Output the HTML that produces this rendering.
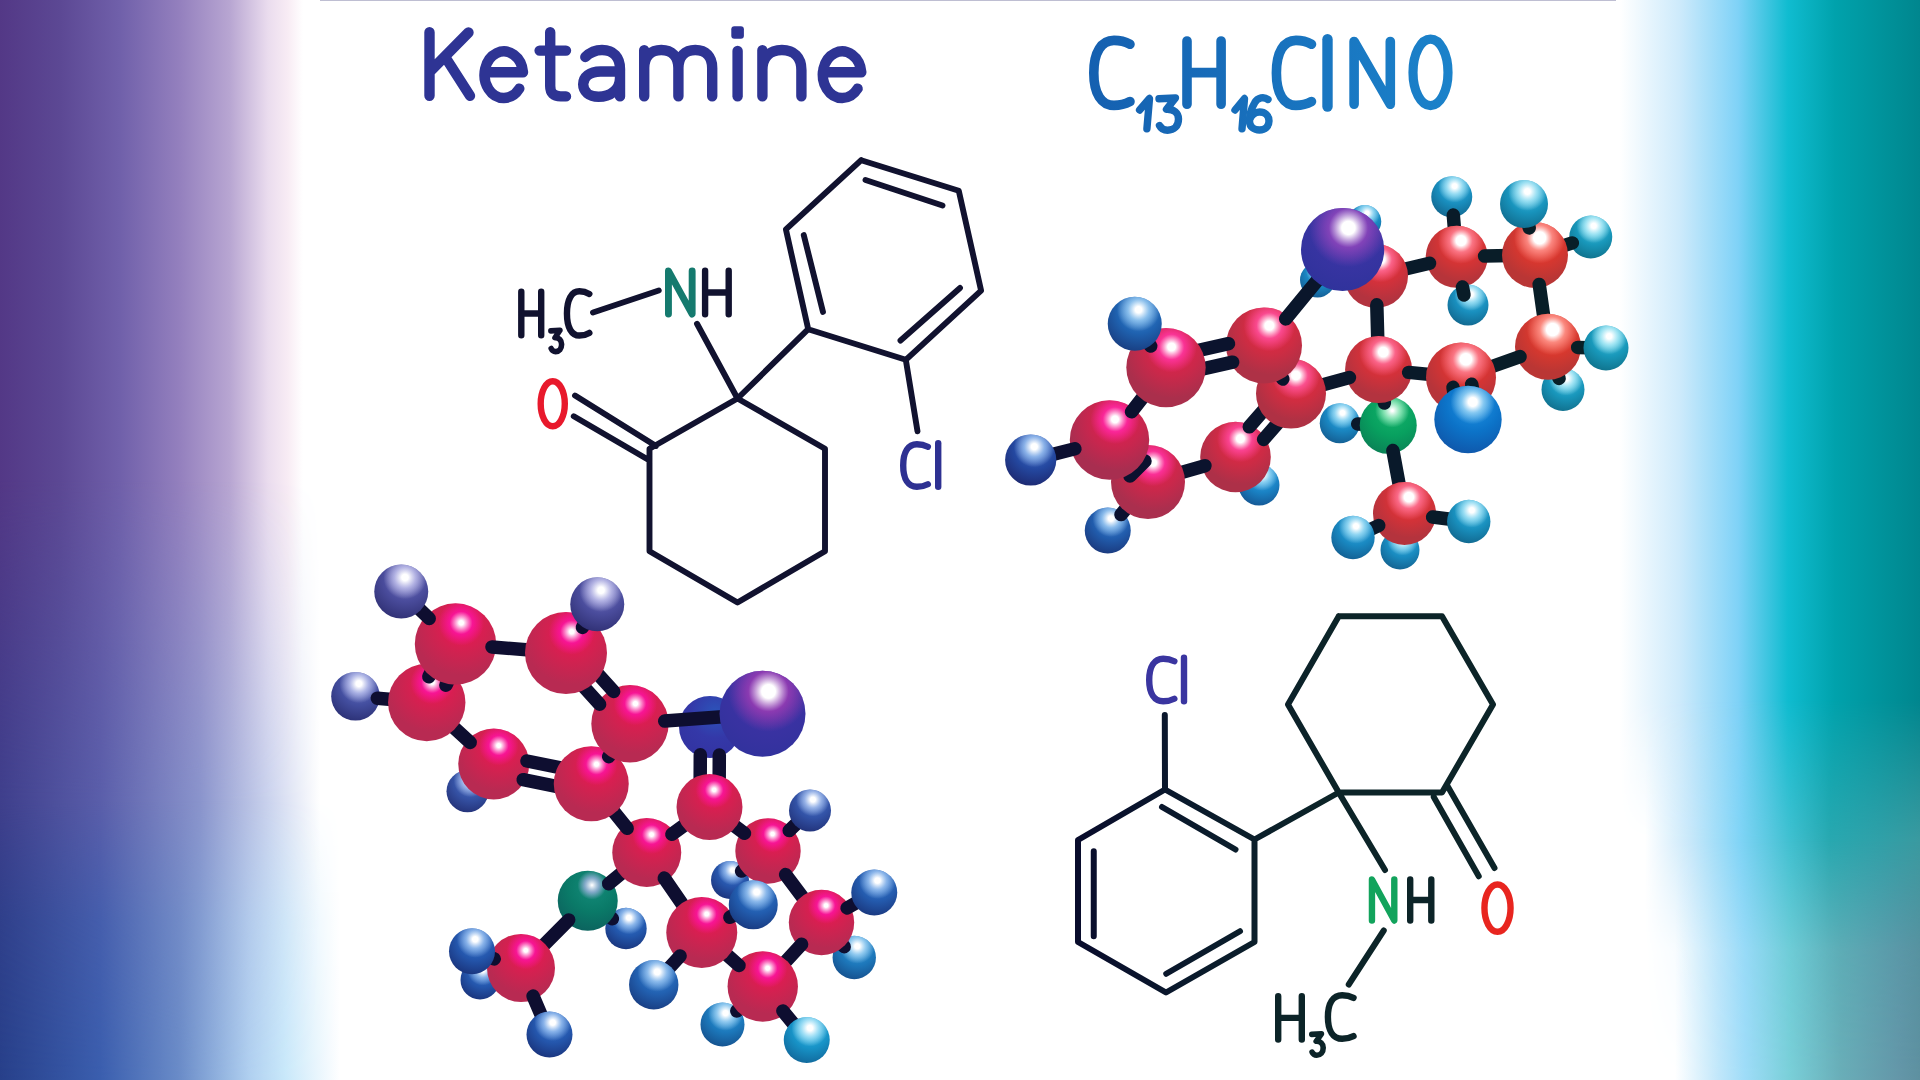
<!DOCTYPE html>
<html><head><meta charset="utf-8"><title>Ketamine</title>
<style>html,body{margin:0;padding:0;background:#fff;font-family:"Liberation Sans",sans-serif}svg{display:block}</style></head>
<body>
<svg width="1920" height="1080" viewBox="0 0 1920 1080">
<defs>
<linearGradient id="lt" gradientUnits="userSpaceOnUse" x1="0" y1="0" x2="360" y2="0"><stop offset="0.0000" stop-color="#533886"/><stop offset="0.1667" stop-color="#5c4894"/><stop offset="0.3333" stop-color="#7060aa"/><stop offset="0.5000" stop-color="#9480be"/><stop offset="0.6389" stop-color="#b8a6d2"/><stop offset="0.7444" stop-color="#eadcee"/><stop offset="0.8000" stop-color="#f8ecf4"/><stop offset="0.8417" stop-color="#ffffff"/><stop offset="1.0000" stop-color="#ffffff"/></linearGradient>
<linearGradient id="lm" gradientUnits="userSpaceOnUse" x1="0" y1="0" x2="360" y2="0"><stop offset="0.0000" stop-color="#3f3f8c"/><stop offset="0.2778" stop-color="#5a5eaa"/><stop offset="0.5556" stop-color="#8a94cc"/><stop offset="0.7500" stop-color="#ccd4ee"/><stop offset="0.8889" stop-color="#ffffff"/><stop offset="1.0000" stop-color="#ffffff"/></linearGradient>
<linearGradient id="lb" gradientUnits="userSpaceOnUse" x1="0" y1="0" x2="360" y2="0"><stop offset="0.0000" stop-color="#27408a"/><stop offset="0.2778" stop-color="#3a5eae"/><stop offset="0.5000" stop-color="#6a8cc8"/><stop offset="0.6944" stop-color="#b0d0f0"/><stop offset="0.7917" stop-color="#c8e8fa"/><stop offset="0.9444" stop-color="#ffffff"/><stop offset="1.0000" stop-color="#ffffff"/></linearGradient>
<linearGradient id="lmmg" gradientUnits="userSpaceOnUse" x1="0" y1="0" x2="0" y2="1080"><stop offset="0.0000" stop-color="#000000"/><stop offset="0.4444" stop-color="#000000"/><stop offset="0.7407" stop-color="#ffffff"/><stop offset="1.0000" stop-color="#ffffff"/></linearGradient><mask id="lmm" maskUnits="userSpaceOnUse" x="0" y="0" width="360" height="1080"><rect x="0" y="0" width="360" height="1080" fill="url(#lmmg)"/></mask>
<linearGradient id="lbmg" gradientUnits="userSpaceOnUse" x1="0" y1="0" x2="0" y2="1080"><stop offset="0.0000" stop-color="#000000"/><stop offset="0.7407" stop-color="#000000"/><stop offset="0.8519" stop-color="#a6a6a6"/><stop offset="1.0000" stop-color="#ffffff"/></linearGradient><mask id="lbm" maskUnits="userSpaceOnUse" x="0" y="0" width="360" height="1080"><rect x="0" y="0" width="360" height="1080" fill="url(#lbmg)"/></mask>
<linearGradient id="rt" gradientUnits="userSpaceOnUse" x1="1600" y1="0" x2="1920" y2="0"><stop offset="0.0000" stop-color="#ffffff"/><stop offset="0.0625" stop-color="#ffffff"/><stop offset="0.2500" stop-color="#cdeafb"/><stop offset="0.4313" stop-color="#7fd2f7"/><stop offset="0.5875" stop-color="#10bcd0"/><stop offset="0.7344" stop-color="#00a2ac"/><stop offset="0.9062" stop-color="#009098"/><stop offset="1.0000" stop-color="#00868e"/></linearGradient>
<linearGradient id="rm" gradientUnits="userSpaceOnUse" x1="1600" y1="0" x2="1920" y2="0"><stop offset="0.0000" stop-color="#ffffff"/><stop offset="0.1406" stop-color="#ffffff"/><stop offset="0.2812" stop-color="#c8e8fa"/><stop offset="0.4375" stop-color="#80d4f6"/><stop offset="0.5938" stop-color="#40c0d0"/><stop offset="0.7188" stop-color="#28a8b0"/><stop offset="0.8750" stop-color="#30a0a8"/><stop offset="1.0000" stop-color="#3a9aa0"/></linearGradient>
<linearGradient id="rb" gradientUnits="userSpaceOnUse" x1="1600" y1="0" x2="1920" y2="0"><stop offset="0.0000" stop-color="#ffffff"/><stop offset="0.2344" stop-color="#ffffff"/><stop offset="0.3750" stop-color="#bfe6fa"/><stop offset="0.4531" stop-color="#9fdcf8"/><stop offset="0.5938" stop-color="#7acfd8"/><stop offset="0.7500" stop-color="#6aaeb8"/><stop offset="0.9375" stop-color="#6496a8"/><stop offset="1.0000" stop-color="#5e90a0"/></linearGradient>
<linearGradient id="rmmg" gradientUnits="userSpaceOnUse" x1="0" y1="0" x2="0" y2="1080"><stop offset="0.0000" stop-color="#000000"/><stop offset="0.6481" stop-color="#000000"/><stop offset="0.7778" stop-color="#ffffff"/><stop offset="1.0000" stop-color="#ffffff"/></linearGradient><mask id="rmm" maskUnits="userSpaceOnUse" x="1600" y="0" width="320" height="1080"><rect x="1600" y="0" width="320" height="1080" fill="url(#rmmg)"/></mask>
<linearGradient id="rbmg" gradientUnits="userSpaceOnUse" x1="0" y1="0" x2="0" y2="1080"><stop offset="0.0000" stop-color="#000000"/><stop offset="0.7778" stop-color="#000000"/><stop offset="0.8796" stop-color="#cccccc"/><stop offset="1.0000" stop-color="#ffffff"/></linearGradient><mask id="rbm" maskUnits="userSpaceOnUse" x="1600" y="0" width="320" height="1080"><rect x="1600" y="0" width="320" height="1080" fill="url(#rbmg)"/></mask>
<linearGradient id="fg" gradientUnits="userSpaceOnUse" x1="1090" y1="0" x2="1452" y2="0"><stop offset="0" stop-color="#1560b0"/><stop offset="1" stop-color="#1b82ca"/></linearGradient>
<linearGradient id="s2g" gradientUnits="userSpaceOnUse" x1="1076" y1="0" x2="1330" y2="0"><stop offset="0" stop-color="#090c2c"/><stop offset=".45" stop-color="#0a1a2c"/><stop offset="1" stop-color="#0c2428"/></linearGradient>
<radialGradient id="b1" cx=".58" cy=".27" r=".82"><stop offset="0" stop-color="#3caae6"/><stop offset="0.5" stop-color="#1a82c4"/><stop offset="1" stop-color="#14508c"/></radialGradient><radialGradient id="h1" cx=".57" cy=".24" r="0.4"><stop offset="0" stop-color="#fff"/><stop offset="0.15" stop-color="#fff"/><stop offset=".5" stop-color="#96d7f5" stop-opacity=".85"/><stop offset="1" stop-color="#96d7f5" stop-opacity="0"/></radialGradient>
<radialGradient id="b2" cx=".58" cy=".27" r=".82"><stop offset="0" stop-color="#4989d5"/><stop offset="0.5" stop-color="#215cac"/><stop offset="1" stop-color="#193375"/></radialGradient><radialGradient id="h2" cx=".57" cy=".24" r="0.4"><stop offset="0" stop-color="#fff"/><stop offset="0.15" stop-color="#fff"/><stop offset=".5" stop-color="#96c6f2" stop-opacity=".85"/><stop offset="1" stop-color="#96c6f2" stop-opacity="0"/></radialGradient>
<radialGradient id="b3" cx=".58" cy=".27" r=".82"><stop offset="0" stop-color="#42b2e6"/><stop offset="0.5" stop-color="#1a87c2"/><stop offset="1" stop-color="#13578a"/></radialGradient><radialGradient id="h3" cx=".57" cy=".24" r="0.4"><stop offset="0" stop-color="#fff"/><stop offset="0.15" stop-color="#fff"/><stop offset=".5" stop-color="#9cdcf6" stop-opacity=".85"/><stop offset="1" stop-color="#9cdcf6" stop-opacity="0"/></radialGradient>
<radialGradient id="b4" cx=".58" cy=".27" r=".82"><stop offset="0" stop-color="#43b4e6"/><stop offset="0.5" stop-color="#1989c1"/><stop offset="1" stop-color="#12598a"/></radialGradient><radialGradient id="h4" cx=".57" cy=".24" r="0.4"><stop offset="0" stop-color="#fff"/><stop offset="0.15" stop-color="#fff"/><stop offset=".5" stop-color="#9eddf6" stop-opacity=".85"/><stop offset="1" stop-color="#9eddf6" stop-opacity="0"/></radialGradient>
<radialGradient id="b5" cx=".58" cy=".27" r=".82"><stop offset="0" stop-color="#40b0e6"/><stop offset="0.5" stop-color="#1a86c2"/><stop offset="1" stop-color="#13558b"/></radialGradient><radialGradient id="h5" cx=".57" cy=".24" r="0.4"><stop offset="0" stop-color="#fff"/><stop offset="0.15" stop-color="#fff"/><stop offset=".5" stop-color="#9adbf6" stop-opacity=".85"/><stop offset="1" stop-color="#9adbf6" stop-opacity="0"/></radialGradient>
<radialGradient id="b6" cx=".58" cy=".27" r=".82"><stop offset="0" stop-color="#46b8e6"/><stop offset="0.5" stop-color="#198bc0"/><stop offset="1" stop-color="#125c89"/></radialGradient><radialGradient id="h6" cx=".57" cy=".24" r="0.4"><stop offset="0" stop-color="#fff"/><stop offset="0.15" stop-color="#fff"/><stop offset=".5" stop-color="#a0e0f6" stop-opacity=".85"/><stop offset="1" stop-color="#a0e0f6" stop-opacity="0"/></radialGradient>
<radialGradient id="b7" cx=".58" cy=".27" r=".82"><stop offset="0" stop-color="#4abde6"/><stop offset="0.5" stop-color="#198ebe"/><stop offset="1" stop-color="#116087"/></radialGradient><radialGradient id="h7" cx=".57" cy=".24" r="0.4"><stop offset="0" stop-color="#fff"/><stop offset="0.15" stop-color="#fff"/><stop offset=".5" stop-color="#a4e3f7" stop-opacity=".85"/><stop offset="1" stop-color="#a4e3f7" stop-opacity="0"/></radialGradient>
<radialGradient id="b8" cx=".58" cy=".27" r=".82"><stop offset="0" stop-color="#51c8e6"/><stop offset="0.5" stop-color="#1896bb"/><stop offset="1" stop-color="#0f6985"/></radialGradient><radialGradient id="h8" cx=".57" cy=".24" r="0.4"><stop offset="0" stop-color="#fff"/><stop offset="0.15" stop-color="#fff"/><stop offset=".5" stop-color="#aceaf8" stop-opacity=".85"/><stop offset="1" stop-color="#aceaf8" stop-opacity="0"/></radialGradient>
<radialGradient id="b9" cx=".58" cy=".27" r=".82"><stop offset="0.1" stop-color="#e42548"/><stop offset="0.42" stop-color="#cd2b45"/><stop offset="0.75" stop-color="#ad3048"/></radialGradient><radialGradient id="h9" cx=".57" cy=".24" r="0.333"><stop offset="0" stop-color="#fff"/><stop offset="0.169" stop-color="#fff"/><stop offset=".5" stop-color="#ff489e" stop-opacity=".85"/><stop offset="1" stop-color="#ff489e" stop-opacity="0"/></radialGradient>
<radialGradient id="b10" cx=".58" cy=".27" r=".82"><stop offset="0" stop-color="#14b46c"/><stop offset="0.5" stop-color="#08a05f"/><stop offset="1" stop-color="#0a7c54"/></radialGradient><radialGradient id="h10" cx=".57" cy=".24" r="0.3"><stop offset="0" stop-color="#fff"/><stop offset="0.06" stop-color="#fff"/><stop offset=".5" stop-color="#96ebbe" stop-opacity=".85"/><stop offset="1" stop-color="#96ebbe" stop-opacity="0"/></radialGradient>
<radialGradient id="b11" cx=".58" cy=".27" r=".82"><stop offset="0.1" stop-color="#e83535"/><stop offset="0.42" stop-color="#d53435"/><stop offset="0.75" stop-color="#b6343a"/></radialGradient><radialGradient id="h11" cx=".57" cy=".24" r="0.373"><stop offset="0" stop-color="#fff"/><stop offset="0.219" stop-color="#fff"/><stop offset=".5" stop-color="#ff7f91" stop-opacity=".85"/><stop offset="1" stop-color="#ff7f91" stop-opacity="0"/></radialGradient>
<radialGradient id="b12" cx=".58" cy=".27" r=".82"><stop offset="0" stop-color="#53cbe6"/><stop offset="0.5" stop-color="#1897ba"/><stop offset="1" stop-color="#0e6b84"/></radialGradient><radialGradient id="h12" cx=".57" cy=".24" r="0.4"><stop offset="0" stop-color="#fff"/><stop offset="0.15" stop-color="#fff"/><stop offset=".5" stop-color="#aeebf8" stop-opacity=".85"/><stop offset="1" stop-color="#aeebf8" stop-opacity="0"/></radialGradient>
<radialGradient id="b13" cx=".58" cy=".27" r=".82"><stop offset="0.1" stop-color="#e31f4f"/><stop offset="0.42" stop-color="#c9284b"/><stop offset="0.75" stop-color="#aa2f4e"/></radialGradient><radialGradient id="h13" cx=".57" cy=".24" r="0.317"><stop offset="0" stop-color="#fff"/><stop offset="0.149" stop-color="#fff"/><stop offset=".5" stop-color="#ff32a3" stop-opacity=".85"/><stop offset="1" stop-color="#ff32a3" stop-opacity="0"/></radialGradient>
<radialGradient id="b14" cx=".58" cy=".27" r=".82"><stop offset="0.1" stop-color="#e72f3c"/><stop offset="0.42" stop-color="#d2313b"/><stop offset="0.75" stop-color="#b3333f"/></radialGradient><radialGradient id="h14" cx=".57" cy=".24" r="0.359"><stop offset="0" stop-color="#fff"/><stop offset="0.201" stop-color="#fff"/><stop offset=".5" stop-color="#ff6b96" stop-opacity=".85"/><stop offset="1" stop-color="#ff6b96" stop-opacity="0"/></radialGradient>
<radialGradient id="b15" cx=".58" cy=".27" r=".82"><stop offset="0.1" stop-color="#ea3b2f"/><stop offset="0.42" stop-color="#d8372f"/><stop offset="0.75" stop-color="#b93635"/></radialGradient><radialGradient id="h15" cx=".57" cy=".24" r="0.388"><stop offset="0" stop-color="#fff"/><stop offset="0.237" stop-color="#fff"/><stop offset=".5" stop-color="#ff938d" stop-opacity=".85"/><stop offset="1" stop-color="#ff938d" stop-opacity="0"/></radialGradient>
<radialGradient id="b16" cx=".58" cy=".27" r=".82"><stop offset="0.1" stop-color="#e7323a"/><stop offset="0.42" stop-color="#d33238"/><stop offset="0.75" stop-color="#b4333d"/></radialGradient><radialGradient id="h16" cx=".57" cy=".24" r="0.364"><stop offset="0" stop-color="#fff"/><stop offset="0.207" stop-color="#fff"/><stop offset=".5" stop-color="#ff7294" stop-opacity=".85"/><stop offset="1" stop-color="#ff7294" stop-opacity="0"/></radialGradient>
<radialGradient id="b17" cx=".58" cy=".27" r=".82"><stop offset="0" stop-color="#4bbfe6"/><stop offset="0.5" stop-color="#198fbe"/><stop offset="1" stop-color="#106187"/></radialGradient><radialGradient id="h17" cx=".57" cy=".24" r="0.4"><stop offset="0" stop-color="#fff"/><stop offset="0.15" stop-color="#fff"/><stop offset=".5" stop-color="#a5e4f7" stop-opacity=".85"/><stop offset="1" stop-color="#a5e4f7" stop-opacity="0"/></radialGradient>
<radialGradient id="b18" cx=".58" cy=".27" r=".82"><stop offset="0.1" stop-color="#e21c52"/><stop offset="0.42" stop-color="#c8264e"/><stop offset="0.75" stop-color="#a82e50"/></radialGradient><radialGradient id="h18" cx=".57" cy=".24" r="0.31"><stop offset="0" stop-color="#fff"/><stop offset="0.14" stop-color="#fff"/><stop offset=".5" stop-color="#ff28a5" stop-opacity=".85"/><stop offset="1" stop-color="#ff28a5" stop-opacity="0"/></radialGradient>
<radialGradient id="b19" cx=".58" cy=".27" r=".82"><stop offset="0.1" stop-color="#ea3c2e"/><stop offset="0.42" stop-color="#d8382e"/><stop offset="0.75" stop-color="#ba3634"/></radialGradient><radialGradient id="h19" cx=".57" cy=".24" r="0.39"><stop offset="0" stop-color="#fff"/><stop offset="0.24" stop-color="#fff"/><stop offset=".5" stop-color="#ff968c" stop-opacity=".85"/><stop offset="1" stop-color="#ff968c" stop-opacity="0"/></radialGradient>
<radialGradient id="b20" cx=".58" cy=".27" r=".82"><stop offset="0.1" stop-color="#e7303c"/><stop offset="0.42" stop-color="#d2313a"/><stop offset="0.75" stop-color="#b3333f"/></radialGradient><radialGradient id="h20" cx=".57" cy=".24" r="0.359"><stop offset="0" stop-color="#fff"/><stop offset="0.201" stop-color="#fff"/><stop offset=".5" stop-color="#ff6c96" stop-opacity=".85"/><stop offset="1" stop-color="#ff6c96" stop-opacity="0"/></radialGradient>
<radialGradient id="b21" cx=".58" cy=".27" r=".82"><stop offset="0" stop-color="#43b3e6"/><stop offset="0.5" stop-color="#1988c1"/><stop offset="1" stop-color="#12588a"/></radialGradient><radialGradient id="h21" cx=".57" cy=".24" r="0.4"><stop offset="0" stop-color="#fff"/><stop offset="0.15" stop-color="#fff"/><stop offset=".5" stop-color="#9dddf6" stop-opacity=".85"/><stop offset="1" stop-color="#9dddf6" stop-opacity="0"/></radialGradient>
<radialGradient id="b22" cx=".58" cy=".27" r=".82"><stop offset="0" stop-color="#4bbfe6"/><stop offset="0.5" stop-color="#1990be"/><stop offset="1" stop-color="#106187"/></radialGradient><radialGradient id="h22" cx=".57" cy=".24" r="0.4"><stop offset="0" stop-color="#fff"/><stop offset="0.15" stop-color="#fff"/><stop offset=".5" stop-color="#a5e4f7" stop-opacity=".85"/><stop offset="1" stop-color="#a5e4f7" stop-opacity="0"/></radialGradient>
<radialGradient id="b23" cx=".58" cy=".27" r=".82"><stop offset="0" stop-color="#4fc4e6"/><stop offset="0.5" stop-color="#1893bc"/><stop offset="1" stop-color="#0f6686"/></radialGradient><radialGradient id="h23" cx=".57" cy=".24" r="0.4"><stop offset="0" stop-color="#fff"/><stop offset="0.15" stop-color="#fff"/><stop offset=".5" stop-color="#a9e7f7" stop-opacity=".85"/><stop offset="1" stop-color="#a9e7f7" stop-opacity="0"/></radialGradient>
<radialGradient id="b24" cx=".58" cy=".27" r=".82"><stop offset="0" stop-color="#5078cd"/><stop offset="0.5" stop-color="#2448a0"/><stop offset="1" stop-color="#1c2469"/></radialGradient><radialGradient id="h24" cx=".57" cy=".24" r="0.4"><stop offset="0" stop-color="#fff"/><stop offset="0.15" stop-color="#fff"/><stop offset=".5" stop-color="#96bef0" stop-opacity=".85"/><stop offset="1" stop-color="#96bef0" stop-opacity="0"/></radialGradient>
<radialGradient id="b25" cx=".58" cy=".27" r=".82"><stop offset="0.1" stop-color="#e83635"/><stop offset="0.42" stop-color="#d53434"/><stop offset="0.75" stop-color="#b6343a"/></radialGradient><radialGradient id="h25" cx=".57" cy=".24" r="0.374"><stop offset="0" stop-color="#fff"/><stop offset="0.22" stop-color="#fff"/><stop offset=".5" stop-color="#ff8091" stop-opacity=".85"/><stop offset="1" stop-color="#ff8091" stop-opacity="0"/></radialGradient>
<radialGradient id="b26" cx=".58" cy=".27" r=".82"><stop offset="0.1" stop-color="#e52943"/><stop offset="0.42" stop-color="#cf2d41"/><stop offset="0.75" stop-color="#af3144"/></radialGradient><radialGradient id="h26" cx=".57" cy=".24" r="0.343"><stop offset="0" stop-color="#fff"/><stop offset="0.181" stop-color="#fff"/><stop offset=".5" stop-color="#ff569b" stop-opacity=".85"/><stop offset="1" stop-color="#ff569b" stop-opacity="0"/></radialGradient>
<radialGradient id="b27" cx=".58" cy=".27" r=".82"><stop offset="0" stop-color="#54cce6"/><stop offset="0.5" stop-color="#1898ba"/><stop offset="1" stop-color="#0e6c84"/></radialGradient><radialGradient id="h27" cx=".57" cy=".24" r="0.4"><stop offset="0" stop-color="#fff"/><stop offset="0.15" stop-color="#fff"/><stop offset=".5" stop-color="#afecf8" stop-opacity=".85"/><stop offset="1" stop-color="#afecf8" stop-opacity="0"/></radialGradient>
<radialGradient id="b28" cx=".58" cy=".27" r=".82"><stop offset="0" stop-color="#2096e6"/><stop offset="0.5" stop-color="#0c73c8"/><stop offset="1" stop-color="#1052a5"/></radialGradient><radialGradient id="h28" cx=".57" cy=".24" r="0.33"><stop offset="0" stop-color="#fff"/><stop offset="0.2" stop-color="#fff"/><stop offset=".5" stop-color="#96d2f5" stop-opacity=".85"/><stop offset="1" stop-color="#96d2f5" stop-opacity="0"/></radialGradient>
<radialGradient id="b29" cx=".58" cy=".27" r=".82"><stop offset="0.1" stop-color="#e52745"/><stop offset="0.42" stop-color="#ce2c43"/><stop offset="0.75" stop-color="#ae3146"/></radialGradient><radialGradient id="h29" cx=".57" cy=".24" r="0.338"><stop offset="0" stop-color="#fff"/><stop offset="0.175" stop-color="#fff"/><stop offset=".5" stop-color="#ff4f9c" stop-opacity=".85"/><stop offset="1" stop-color="#ff4f9c" stop-opacity="0"/></radialGradient>
<radialGradient id="b30" cx=".58" cy=".27" r=".82"><stop offset="0.1" stop-color="#e3204d"/><stop offset="0.42" stop-color="#ca284a"/><stop offset="0.75" stop-color="#aa2f4c"/></radialGradient><radialGradient id="h30" cx=".57" cy=".24" r="0.32"><stop offset="0" stop-color="#fff"/><stop offset="0.153" stop-color="#fff"/><stop offset=".5" stop-color="#ff36a2" stop-opacity=".85"/><stop offset="1" stop-color="#ff36a2" stop-opacity="0"/></radialGradient>
<radialGradient id="b31" cx=".58" cy=".27" r=".82"><stop offset="0" stop-color="#5430a6"/><stop offset="0.5" stop-color="#3834a2"/><stop offset="1" stop-color="#2e329a"/></radialGradient><radialGradient id="h31" cx=".57" cy=".24" r="0.47"><stop offset="0" stop-color="#fff"/><stop offset="0.17" stop-color="#fff"/><stop offset=".5" stop-color="#8c46bc" stop-opacity=".85"/><stop offset="1" stop-color="#8c46bc" stop-opacity="0"/></radialGradient>
<radialGradient id="b32" cx=".58" cy=".27" r=".82"><stop offset="0" stop-color="#478fd8"/><stop offset="0.5" stop-color="#1f62b0"/><stop offset="1" stop-color="#183879"/></radialGradient><radialGradient id="h32" cx=".57" cy=".24" r="0.4"><stop offset="0" stop-color="#fff"/><stop offset="0.15" stop-color="#fff"/><stop offset=".5" stop-color="#96c9f2" stop-opacity=".85"/><stop offset="1" stop-color="#96c9f2" stop-opacity="0"/></radialGradient>
<radialGradient id="b33" cx=".58" cy=".27" r=".82"><stop offset="0" stop-color="#6b75c3"/><stop offset="0.5" stop-color="#434e9f"/><stop offset="1" stop-color="#282c6f"/></radialGradient><radialGradient id="h33" cx=".57" cy=".24" r="0.4"><stop offset="0" stop-color="#fff"/><stop offset="0.15" stop-color="#fff"/><stop offset=".5" stop-color="#b7beec" stop-opacity=".85"/><stop offset="1" stop-color="#b7beec" stop-opacity="0"/></radialGradient>
<radialGradient id="b34" cx=".58" cy=".27" r=".82"><stop offset="0" stop-color="#5477c9"/><stop offset="0.5" stop-color="#3552a5"/><stop offset="1" stop-color="#212d71"/></radialGradient><radialGradient id="h34" cx=".57" cy=".24" r="0.4"><stop offset="0" stop-color="#fff"/><stop offset="0.15" stop-color="#fff"/><stop offset=".5" stop-color="#a7beee" stop-opacity=".85"/><stop offset="1" stop-color="#a7beee" stop-opacity="0"/></radialGradient>
<radialGradient id="b35" cx=".58" cy=".27" r=".82"><stop offset="0" stop-color="#3a7dd1"/><stop offset="0.5" stop-color="#2358ad"/><stop offset="1" stop-color="#183075"/></radialGradient><radialGradient id="h35" cx=".57" cy=".24" r="0.4"><stop offset="0" stop-color="#fff"/><stop offset="0.15" stop-color="#fff"/><stop offset=".5" stop-color="#97c0f0" stop-opacity=".85"/><stop offset="1" stop-color="#97c0f0" stop-opacity="0"/></radialGradient>
<radialGradient id="b36" cx=".58" cy=".27" r=".82"><stop offset="0" stop-color="#3a7ad0"/><stop offset="0.5" stop-color="#2456ac"/><stop offset="1" stop-color="#182e74"/></radialGradient><radialGradient id="h36" cx=".57" cy=".24" r="0.4"><stop offset="0" stop-color="#fff"/><stop offset="0.15" stop-color="#fff"/><stop offset=".5" stop-color="#96bef0" stop-opacity=".85"/><stop offset="1" stop-color="#96bef0" stop-opacity="0"/></radialGradient>
<radialGradient id="b37" cx=".58" cy=".27" r=".82"><stop offset="0" stop-color="#3f7acf"/><stop offset="0.5" stop-color="#2755ab"/><stop offset="1" stop-color="#1a2e74"/></radialGradient><radialGradient id="h37" cx=".57" cy=".24" r="0.4"><stop offset="0" stop-color="#fff"/><stop offset="0.15" stop-color="#fff"/><stop offset=".5" stop-color="#99bef0" stop-opacity=".85"/><stop offset="1" stop-color="#99bef0" stop-opacity="0"/></radialGradient>
<radialGradient id="b38" cx=".58" cy=".27" r=".82"><stop offset="0" stop-color="#399edc"/><stop offset="0.5" stop-color="#1d77ba"/><stop offset="1" stop-color="#144a86"/></radialGradient><radialGradient id="h38" cx=".57" cy=".24" r="0.4"><stop offset="0" stop-color="#fff"/><stop offset="0.15" stop-color="#fff"/><stop offset=".5" stop-color="#a0d3f5" stop-opacity=".85"/><stop offset="1" stop-color="#a0d3f5" stop-opacity="0"/></radialGradient>
<radialGradient id="b39" cx=".58" cy=".27" r=".82"><stop offset="0" stop-color="#39a0dd"/><stop offset="0.5" stop-color="#1c78bb"/><stop offset="1" stop-color="#144b86"/></radialGradient><radialGradient id="h39" cx=".57" cy=".24" r="0.4"><stop offset="0" stop-color="#fff"/><stop offset="0.15" stop-color="#fff"/><stop offset=".5" stop-color="#a1d3f5" stop-opacity=".85"/><stop offset="1" stop-color="#a1d3f5" stop-opacity="0"/></radialGradient>
<radialGradient id="b40" cx=".58" cy=".27" r=".82"><stop offset="0" stop-color="#2c54ba"/><stop offset="0.5" stop-color="#3438a8"/><stop offset="1" stop-color="#3232a0"/></radialGradient><radialGradient id="h40" cx=".57" cy=".24" r="0.33"><stop offset="0" stop-color="#fff"/><stop offset="0.2" stop-color="#fff"/><stop offset=".5" stop-color="#78aae6" stop-opacity=".85"/><stop offset="1" stop-color="#78aae6" stop-opacity="0"/></radialGradient>
<radialGradient id="b41" cx=".58" cy=".27" r=".82"><stop offset="0" stop-color="#148c7a"/><stop offset="0.5" stop-color="#0a7a68"/><stop offset="1" stop-color="#0c5e5c"/></radialGradient><radialGradient id="h41" cx=".57" cy=".24" r="0.24"><stop offset="0" stop-color="#fff"/><stop offset="0.02" stop-color="#fff"/><stop offset=".5" stop-color="#96afd7" stop-opacity=".85"/><stop offset="1" stop-color="#96afd7" stop-opacity="0"/></radialGradient>
<radialGradient id="b42" cx=".58" cy=".27" r=".82"><stop offset="0.1" stop-color="#ea1654"/><stop offset="0.42" stop-color="#d02250"/><stop offset="0.75" stop-color="#b82a52"/></radialGradient><radialGradient id="h42" cx=".57" cy=".24" r="0.28"><stop offset="0" stop-color="#fff"/><stop offset="0.1" stop-color="#fff"/><stop offset=".5" stop-color="#fa14a0" stop-opacity=".85"/><stop offset="1" stop-color="#fa14a0" stop-opacity="0"/></radialGradient>
<radialGradient id="b43" cx=".58" cy=".27" r=".82"><stop offset="0.1" stop-color="#ea1654"/><stop offset="0.42" stop-color="#d02250"/><stop offset="0.75" stop-color="#b82a52"/></radialGradient><radialGradient id="h43" cx=".57" cy=".24" r="0.28"><stop offset="0" stop-color="#fff"/><stop offset="0.1" stop-color="#fff"/><stop offset=".5" stop-color="#fa14a0" stop-opacity=".85"/><stop offset="1" stop-color="#fa14a0" stop-opacity="0"/></radialGradient>
<radialGradient id="b44" cx=".58" cy=".27" r=".82"><stop offset="0.1" stop-color="#ea1654"/><stop offset="0.42" stop-color="#d02250"/><stop offset="0.75" stop-color="#b82a52"/></radialGradient><radialGradient id="h44" cx=".57" cy=".24" r="0.28"><stop offset="0" stop-color="#fff"/><stop offset="0.1" stop-color="#fff"/><stop offset=".5" stop-color="#fa14a0" stop-opacity=".85"/><stop offset="1" stop-color="#fa14a0" stop-opacity="0"/></radialGradient>
<radialGradient id="b45" cx=".58" cy=".27" r=".82"><stop offset="0.1" stop-color="#ea1654"/><stop offset="0.42" stop-color="#d02250"/><stop offset="0.75" stop-color="#b82a52"/></radialGradient><radialGradient id="h45" cx=".57" cy=".24" r="0.28"><stop offset="0" stop-color="#fff"/><stop offset="0.1" stop-color="#fff"/><stop offset=".5" stop-color="#fa14a0" stop-opacity=".85"/><stop offset="1" stop-color="#fa14a0" stop-opacity="0"/></radialGradient>
<radialGradient id="b46" cx=".58" cy=".27" r=".82"><stop offset="0.1" stop-color="#ea1654"/><stop offset="0.42" stop-color="#d02250"/><stop offset="0.75" stop-color="#b82a52"/></radialGradient><radialGradient id="h46" cx=".57" cy=".24" r="0.28"><stop offset="0" stop-color="#fff"/><stop offset="0.1" stop-color="#fff"/><stop offset=".5" stop-color="#fa14a0" stop-opacity=".85"/><stop offset="1" stop-color="#fa14a0" stop-opacity="0"/></radialGradient>
<radialGradient id="b47" cx=".58" cy=".27" r=".82"><stop offset="0" stop-color="#4f78ca"/><stop offset="0.5" stop-color="#3252a6"/><stop offset="1" stop-color="#1f2d72"/></radialGradient><radialGradient id="h47" cx=".57" cy=".24" r="0.4"><stop offset="0" stop-color="#fff"/><stop offset="0.15" stop-color="#fff"/><stop offset=".5" stop-color="#a4beee" stop-opacity=".85"/><stop offset="1" stop-color="#a4beee" stop-opacity="0"/></radialGradient>
<radialGradient id="b48" cx=".58" cy=".27" r=".82"><stop offset="0.1" stop-color="#ea1654"/><stop offset="0.42" stop-color="#d02250"/><stop offset="0.75" stop-color="#b82a52"/></radialGradient><radialGradient id="h48" cx=".57" cy=".24" r="0.28"><stop offset="0" stop-color="#fff"/><stop offset="0.1" stop-color="#fff"/><stop offset=".5" stop-color="#fa14a0" stop-opacity=".85"/><stop offset="1" stop-color="#fa14a0" stop-opacity="0"/></radialGradient>
<radialGradient id="b49" cx=".58" cy=".27" r=".82"><stop offset="0" stop-color="#3a7ad0"/><stop offset="0.5" stop-color="#2456ac"/><stop offset="1" stop-color="#182e74"/></radialGradient><radialGradient id="h49" cx=".57" cy=".24" r="0.4"><stop offset="0" stop-color="#fff"/><stop offset="0.15" stop-color="#fff"/><stop offset=".5" stop-color="#96bef0" stop-opacity=".85"/><stop offset="1" stop-color="#96bef0" stop-opacity="0"/></radialGradient>
<radialGradient id="b50" cx=".58" cy=".27" r=".82"><stop offset="0" stop-color="#3a7ad0"/><stop offset="0.5" stop-color="#2456ac"/><stop offset="1" stop-color="#182e74"/></radialGradient><radialGradient id="h50" cx=".57" cy=".24" r="0.4"><stop offset="0" stop-color="#fff"/><stop offset="0.15" stop-color="#fff"/><stop offset=".5" stop-color="#96bef0" stop-opacity=".85"/><stop offset="1" stop-color="#96bef0" stop-opacity="0"/></radialGradient>
<radialGradient id="b51" cx=".58" cy=".27" r=".82"><stop offset="0.1" stop-color="#ea1654"/><stop offset="0.42" stop-color="#d02250"/><stop offset="0.75" stop-color="#b82a52"/></radialGradient><radialGradient id="h51" cx=".57" cy=".24" r="0.28"><stop offset="0" stop-color="#fff"/><stop offset="0.1" stop-color="#fff"/><stop offset=".5" stop-color="#fa14a0" stop-opacity=".85"/><stop offset="1" stop-color="#fa14a0" stop-opacity="0"/></radialGradient>
<radialGradient id="b52" cx=".58" cy=".27" r=".82"><stop offset="0" stop-color="#3b80d2"/><stop offset="0.5" stop-color="#245bae"/><stop offset="1" stop-color="#183277"/></radialGradient><radialGradient id="h52" cx=".57" cy=".24" r="0.4"><stop offset="0" stop-color="#fff"/><stop offset="0.15" stop-color="#fff"/><stop offset=".5" stop-color="#99c1f1" stop-opacity=".85"/><stop offset="1" stop-color="#99c1f1" stop-opacity="0"/></radialGradient>
<radialGradient id="b53" cx=".58" cy=".27" r=".82"><stop offset="0.1" stop-color="#ea1654"/><stop offset="0.42" stop-color="#d02250"/><stop offset="0.75" stop-color="#b82a52"/></radialGradient><radialGradient id="h53" cx=".57" cy=".24" r="0.28"><stop offset="0" stop-color="#fff"/><stop offset="0.1" stop-color="#fff"/><stop offset=".5" stop-color="#fa14a0" stop-opacity=".85"/><stop offset="1" stop-color="#fa14a0" stop-opacity="0"/></radialGradient>
<radialGradient id="b54" cx=".58" cy=".27" r=".82"><stop offset="0.1" stop-color="#ea1654"/><stop offset="0.42" stop-color="#d02250"/><stop offset="0.75" stop-color="#b82a52"/></radialGradient><radialGradient id="h54" cx=".57" cy=".24" r="0.28"><stop offset="0" stop-color="#fff"/><stop offset="0.1" stop-color="#fff"/><stop offset=".5" stop-color="#fa14a0" stop-opacity=".85"/><stop offset="1" stop-color="#fa14a0" stop-opacity="0"/></radialGradient>
<radialGradient id="b55" cx=".58" cy=".27" r=".82"><stop offset="0.1" stop-color="#ea1654"/><stop offset="0.42" stop-color="#d02250"/><stop offset="0.75" stop-color="#b82a52"/></radialGradient><radialGradient id="h55" cx=".57" cy=".24" r="0.28"><stop offset="0" stop-color="#fff"/><stop offset="0.1" stop-color="#fff"/><stop offset=".5" stop-color="#fa14a0" stop-opacity=".85"/><stop offset="1" stop-color="#fa14a0" stop-opacity="0"/></radialGradient>
<radialGradient id="b56" cx=".58" cy=".27" r=".82"><stop offset="0.1" stop-color="#ea1654"/><stop offset="0.42" stop-color="#d02250"/><stop offset="0.75" stop-color="#b82a52"/></radialGradient><radialGradient id="h56" cx=".57" cy=".24" r="0.28"><stop offset="0" stop-color="#fff"/><stop offset="0.1" stop-color="#fff"/><stop offset=".5" stop-color="#fa14a0" stop-opacity=".85"/><stop offset="1" stop-color="#fa14a0" stop-opacity="0"/></radialGradient>
<radialGradient id="b57" cx=".58" cy=".27" r=".82"><stop offset="0" stop-color="#38bce7"/><stop offset="0.5" stop-color="#1792c6"/><stop offset="1" stop-color="#106194"/></radialGradient><radialGradient id="h57" cx=".57" cy=".24" r="0.4"><stop offset="0" stop-color="#fff"/><stop offset="0.15" stop-color="#fff"/><stop offset=".5" stop-color="#a9e4f9" stop-opacity=".85"/><stop offset="1" stop-color="#a9e4f9" stop-opacity="0"/></radialGradient>
<radialGradient id="b58" cx=".58" cy=".27" r=".82"><stop offset="0" stop-color="#7674c0"/><stop offset="0.5" stop-color="#4a4c9c"/><stop offset="1" stop-color="#2c2c6e"/></radialGradient><radialGradient id="h58" cx=".57" cy=".24" r="0.4"><stop offset="0" stop-color="#fff"/><stop offset="0.15" stop-color="#fff"/><stop offset=".5" stop-color="#bebeeb" stop-opacity=".85"/><stop offset="1" stop-color="#bebeeb" stop-opacity="0"/></radialGradient>
<radialGradient id="b59" cx=".58" cy=".27" r=".82"><stop offset="0.1" stop-color="#ea1654"/><stop offset="0.42" stop-color="#d02250"/><stop offset="0.75" stop-color="#b82a52"/></radialGradient><radialGradient id="h59" cx=".57" cy=".24" r="0.28"><stop offset="0" stop-color="#fff"/><stop offset="0.1" stop-color="#fff"/><stop offset=".5" stop-color="#fa14a0" stop-opacity=".85"/><stop offset="1" stop-color="#fa14a0" stop-opacity="0"/></radialGradient>
<radialGradient id="b60" cx=".58" cy=".27" r=".82"><stop offset="0" stop-color="#3a82d3"/><stop offset="0.5" stop-color="#225daf"/><stop offset="1" stop-color="#173478"/></radialGradient><radialGradient id="h60" cx=".57" cy=".24" r="0.4"><stop offset="0" stop-color="#fff"/><stop offset="0.15" stop-color="#fff"/><stop offset=".5" stop-color="#98c3f1" stop-opacity=".85"/><stop offset="1" stop-color="#98c3f1" stop-opacity="0"/></radialGradient>
<radialGradient id="b61" cx=".58" cy=".27" r=".82"><stop offset="0" stop-color="#3a86d4"/><stop offset="0.5" stop-color="#2261b1"/><stop offset="1" stop-color="#17377a"/></radialGradient><radialGradient id="h61" cx=".57" cy=".24" r="0.4"><stop offset="0" stop-color="#fff"/><stop offset="0.15" stop-color="#fff"/><stop offset=".5" stop-color="#99c5f2" stop-opacity=".85"/><stop offset="1" stop-color="#99c5f2" stop-opacity="0"/></radialGradient>
<radialGradient id="b62" cx=".58" cy=".27" r=".82"><stop offset="0.1" stop-color="#ea1654"/><stop offset="0.42" stop-color="#d02250"/><stop offset="0.75" stop-color="#b82a52"/></radialGradient><radialGradient id="h62" cx=".57" cy=".24" r="0.28"><stop offset="0" stop-color="#fff"/><stop offset="0.1" stop-color="#fff"/><stop offset=".5" stop-color="#fa14a0" stop-opacity=".85"/><stop offset="1" stop-color="#fa14a0" stop-opacity="0"/></radialGradient>
<radialGradient id="b63" cx=".58" cy=".27" r=".82"><stop offset="0" stop-color="#602ca0"/><stop offset="0.5" stop-color="#3a32a2"/><stop offset="1" stop-color="#30329c"/></radialGradient><radialGradient id="h63" cx=".57" cy=".24" r="0.47"><stop offset="0" stop-color="#fff"/><stop offset="0.17" stop-color="#fff"/><stop offset=".5" stop-color="#963cb4" stop-opacity=".85"/><stop offset="1" stop-color="#963cb4" stop-opacity="0"/></radialGradient>
<radialGradient id="b64" cx=".58" cy=".27" r=".82"><stop offset="0" stop-color="#7674c0"/><stop offset="0.5" stop-color="#4a4c9c"/><stop offset="1" stop-color="#2c2c6e"/></radialGradient><radialGradient id="h64" cx=".57" cy=".24" r="0.4"><stop offset="0" stop-color="#fff"/><stop offset="0.15" stop-color="#fff"/><stop offset=".5" stop-color="#bebeeb" stop-opacity=".85"/><stop offset="1" stop-color="#bebeeb" stop-opacity="0"/></radialGradient>
</defs>
<rect x="0" y="0" width="1920" height="1080" fill="#fff"/>
<rect x="0" y="0" width="360" height="1080" fill="url(#lt)"/>
<rect x="0" y="0" width="360" height="1080" fill="url(#lm)" mask="url(#lmm)"/>
<rect x="0" y="0" width="360" height="1080" fill="url(#lb)" mask="url(#lbm)"/>
<rect x="1600" y="0" width="320" height="1080" fill="url(#rt)"/>
<rect x="1600" y="0" width="320" height="1080" fill="url(#rm)" mask="url(#rmm)"/>
<rect x="1600" y="0" width="320" height="1080" fill="url(#rb)" mask="url(#rbm)"/>
<rect x="320" y="0" width="1296" height="1" fill="#bebed2"/>
<g fill="none" stroke="#2e3494" stroke-width="10.4" stroke-linecap="round" stroke-linejoin="round">
<path d="M429.5 32.2L429.5 95.8M431 70.5L468.5 32.5M445.5 57.5L470 95.8"/>
<path d="M484.6 72.3L523 72.3A19.3 23.3 0 1 0 519.3 88.6"/>
<path d="M550.2 32.2L550.2 86Q550.2 96.4 560.6 96.4L566 96.4M539.6 50.6L566 50.6"/>
<path d="M585.3 57C590 52.5 596 50 602 50C613.5 50 620 57 620 69L620 96.4M620 71.5L600.5 71.5C589.5 71.5 583.2 77 583.2 84.3C583.2 91.5 589 96.8 598.5 96.8C610 96.8 620 90 620 78"/>
<path d="M644.2 50.2L644.2 96.2M644.2 68C644.2 56.5 651 50 661.3 50C671.6 50 678.4 56.5 678.4 68L678.4 96.2M678.4 68C678.4 56.5 685 50 695.3 50C705.6 50 712.2 56.5 712.2 68L712.2 96.2"/>
<path d="M737.6 51L737.6 96.2"/>
<path d="M762.4 50.2L762.4 96.2M762.4 70C762.4 57 770 50 781.9 50C793.8 50 801.4 57 801.4 70L801.4 96.2"/>
<path d="M822.8 72.3L861.3 72.3A19.3 23.3 0 1 0 857.6 88.6"/>
</g>
<rect x="731.3" y="26.3" width="12.6" height="12.4" rx="3" fill="#2e3494"/>
<path d="M1130 44.3C1125.13 41.7 1119.56 40.4 1113.99 40.4C1101.46 40.4 1093.8 52.1 1093.8 72.9C1093.8 93.7 1101.46 105.4 1113.99 105.4C1119.56 105.4 1125.13 104.1 1130 101.5" fill="none" stroke="url(#fg)" stroke-width="9.6" stroke-linecap="round" stroke-linejoin="round"/>
<path d="M1139.6 110.01L1149.5 98.5L1146.91 128.8" fill="none" stroke="url(#fg)" stroke-width="7.4" stroke-linecap="round" stroke-linejoin="round"/>
<path d="M1159 98.81L1175.47 98L1166.5 109.27C1173.99 108.95 1178.5 113.01 1178.5 118.93C1178.5 126.01 1173.99 130.2 1167.51 130.2C1163.51 130.2 1161.02 128.49 1159.5 125.5" fill="none" stroke="url(#fg)" stroke-width="7.4" stroke-linecap="round" stroke-linejoin="round"/>
<path d="M1187 41L1187 104.3M1221.1 41L1221.1 104.3M1187 72.65L1221.1 72.65" fill="none" stroke="url(#fg)" stroke-width="9.6" stroke-linecap="round" stroke-linejoin="round"/>
<path d="M1235 110.01L1244.5 98.5L1242.02 128.8" fill="none" stroke="url(#fg)" stroke-width="7.4" stroke-linecap="round" stroke-linejoin="round"/>
<path d="M1267.96 99.45C1264.12 96.53 1257.86 97.01 1254.51 103.03C1251 108.88 1249.5 116.03 1249.5 120.9C1249.5 127.08 1254.03 130 1259.49 130C1265 130 1269 126.42 1269 120.9C1269 115.38 1265 112 1259.49 112C1255 112 1251.48 115.05 1249.99 118.95" fill="none" stroke="url(#fg)" stroke-width="7.4" stroke-linecap="round" stroke-linejoin="round"/>
<path d="M1311.5 44.3C1306.78 41.7 1301.38 40.4 1295.97 40.4C1283.82 40.4 1276.4 52.1 1276.4 72.9C1276.4 93.7 1283.82 105.4 1295.97 105.4C1301.38 105.4 1306.78 104.1 1311.5 101.5" fill="none" stroke="url(#fg)" stroke-width="9.6" stroke-linecap="round" stroke-linejoin="round"/>
<path d="M1327.5 39.2L1327.5 106.6" fill="none" stroke="url(#fg)" stroke-width="10.4" stroke-linecap="round" stroke-linejoin="round"/>
<path d="M1354.1 104.3L1354.1 41.5L1390.3 104.3L1390.3 41.5" fill="none" stroke="url(#fg)" stroke-width="9.6" stroke-linecap="round" stroke-linejoin="round"/>
<path d="M1430.5 39.2C1420.81 39.2 1413 54.07 1413 72.4C1413 90.73 1420.81 105.6 1430.5 105.6C1440.19 105.6 1448 90.73 1448 72.4C1448 54.07 1440.19 39.2 1430.5 39.2Z" fill="none" stroke="url(#fg)" stroke-width="9.2" stroke-linecap="round" stroke-linejoin="round"/>
<path d="M861.2 160.2L958.8 190.8L981.1 290.6L905.8 359.8L808.2 329.2L785.9 229.4L861.2 160.2M737.5 398.5L825 448.75L825 551.25L737.5 602.5L649.5 551.25L649.5 448.75L737.5 398.5M865.5 180L942.5 205.5M803.75 235L823 312M960 288L900.5 340.5M808.2 329.2L737.5 398.5M697 323.75L737.5 398.5M593 312.5L658.75 290.5M905.8 359.8L917.5 431.25M575 395.5L656 446M573.75 416.25L648.75 460" fill="none" stroke="#11122f" stroke-width="5.9" stroke-linecap="round" stroke-linejoin="round"/>
<path d="M668.45 314.05L668.45 270.95L692.15 314.05L692.15 270.95" fill="none" stroke="#157a6e" stroke-width="6.9" stroke-linecap="round" stroke-linejoin="round"/>
<path d="M705.1 270.7L705.1 314.3M728.7 270.7L728.7 314.3M705.1 292.5L728.7 292.5" fill="none" stroke="#11122f" stroke-width="6.4" stroke-linecap="round" stroke-linejoin="round"/>
<path d="M521.3 291.7L521.3 335.3M541.2 291.7L541.2 335.3M521.3 313.5L541.2 313.5" fill="none" stroke="#11122f" stroke-width="6.4" stroke-linecap="round" stroke-linejoin="round"/>
<path d="M550.9 330.83L559.94 330.3L555.01 337.75C559.13 337.54 561.6 340.23 561.6 344.14C561.6 348.83 559.13 351.6 555.57 351.6C553.37 351.6 552.01 350.47 551.18 348.49" fill="none" stroke="#11122f" stroke-width="5.6" stroke-linecap="round" stroke-linejoin="round"/>
<path d="M589.3 293.95C586.29 292.19 582.85 291.3 579.41 291.3C571.68 291.3 566.95 299.26 566.95 313.43C566.95 327.59 571.68 335.55 579.41 335.55C582.85 335.55 586.29 334.67 589.3 332.89" fill="none" stroke="#11122f" stroke-width="6.4" stroke-linecap="round" stroke-linejoin="round"/>
<path d="M552.75 381.2C546.08 381.2 540.7 391.3 540.7 403.75C540.7 416.2 546.08 426.3 552.75 426.3C559.42 426.3 564.8 416.2 564.8 403.75C564.8 391.3 559.42 381.2 552.75 381.2Z" fill="none" stroke="#e8192c" stroke-width="6.4" stroke-linecap="round" stroke-linejoin="round"/>
<path d="M927.8 446.76C924.49 445.05 920.7 444.2 916.92 444.2C908.4 444.2 903.2 451.87 903.2 465.5C903.2 479.13 908.4 486.8 916.92 486.8C920.7 486.8 924.49 485.95 927.8 484.24" fill="none" stroke="#2e3192" stroke-width="6.4" stroke-linecap="round" stroke-linejoin="round"/>
<path d="M938.2 443.2L938.2 486.8" fill="none" stroke="#2e3192" stroke-width="6.4" stroke-linecap="round" stroke-linejoin="round"/>
<path d="M1338.75 616.25L1442 616.25L1493 704.5L1442 792.5L1338.75 792.5L1288 704.5L1338.75 616.25M1165 789.5L1254.5 839.5L1254.5 942L1166 992.5L1078 942L1078 840L1165 789.5M1162 807L1235.5 849.5M1093.75 851.25L1093.75 936.25M1240 931.25L1166.25 973.75M1254.5 839.5L1338.75 792.5M1164.8 715L1165 789.5M1338.75 792.5L1385 870M1383.75 930.5L1348.75 984.5M1447.5 786L1494.5 868M1433.75 797L1478.75 876.25" fill="none" stroke="url(#s2g)" stroke-width="6" stroke-linecap="round" stroke-linejoin="round"/>
<path d="M1174.3 661.26C1170.92 659.55 1167.06 658.7 1163.2 658.7C1154.51 658.7 1149.2 666.37 1149.2 680C1149.2 693.63 1154.51 701.3 1163.2 701.3C1167.06 701.3 1170.92 700.45 1174.3 698.74" fill="none" stroke="#3a35a0" stroke-width="6.4" stroke-linecap="round" stroke-linejoin="round"/>
<path d="M1184 657.7L1184 701.3" fill="none" stroke="#3a35a0" stroke-width="6.4" stroke-linecap="round" stroke-linejoin="round"/>
<path d="M1371.95 920.55L1371.95 879.45L1394.3 920.55L1394.3 879.45" fill="none" stroke="#12a35c" stroke-width="6.4" stroke-linecap="round" stroke-linejoin="round"/>
<path d="M1410.2 879.45L1410.2 920.55M1431.3 879.45L1431.3 920.55M1410.2 900L1431.3 900" fill="none" stroke="#0c2428" stroke-width="6.4" stroke-linecap="round" stroke-linejoin="round"/>
<path d="M1497.5 884.45C1490.27 884.45 1484.45 895.06 1484.45 908.12C1484.45 921.19 1490.27 931.8 1497.5 931.8C1504.73 931.8 1510.55 921.19 1510.55 908.12C1510.55 895.06 1504.73 884.45 1497.5 884.45Z" fill="none" stroke="#e8251f" stroke-width="6.4" stroke-linecap="round" stroke-linejoin="round"/>
<path d="M1278.2 996.2L1278.2 1039.6M1301.8 996.2L1301.8 1039.6M1278.2 1017.9L1301.8 1017.9" fill="none" stroke="#0c2428" stroke-width="6.4" stroke-linecap="round" stroke-linejoin="round"/>
<path d="M1311.8 1034.34L1321.43 1033.8L1316.18 1041.29C1320.57 1041.08 1323.2 1043.77 1323.2 1047.71C1323.2 1052.42 1320.57 1055.2 1316.77 1055.2C1314.43 1055.2 1312.98 1054.07 1312.09 1052.08" fill="none" stroke="#0c2428" stroke-width="5.6" stroke-linecap="round" stroke-linejoin="round"/>
<path d="M1353.5 997.82C1350.05 996.07 1346.12 995.2 1342.18 995.2C1333.32 995.2 1327.9 1003.05 1327.9 1017C1327.9 1030.95 1333.32 1038.8 1342.18 1038.8C1346.12 1038.8 1350.05 1037.93 1353.5 1036.18" fill="none" stroke="#0c2428" stroke-width="6.4" stroke-linecap="round" stroke-linejoin="round"/>
<circle cx="1259" cy="485" r="20.5" fill="url(#b1)"/><circle cx="1259" cy="485" r="20.5" fill="url(#h1)"/>
<circle cx="1107.75" cy="530.5" r="23" fill="url(#b2)"/><circle cx="1107.75" cy="530.5" r="23" fill="url(#h2)"/>
<circle cx="1339.75" cy="423.25" r="20" fill="url(#b3)"/><circle cx="1339.75" cy="423.25" r="20" fill="url(#h3)"/>
<circle cx="1364.75" cy="221.5" r="16.5" fill="url(#b4)"/><circle cx="1364.75" cy="221.5" r="16.5" fill="url(#h4)"/>
<circle cx="1317.5" cy="280" r="17.5" fill="url(#b5)"/><circle cx="1317.5" cy="280" r="17.5" fill="url(#h5)"/>
<circle cx="1400" cy="550" r="19.5" fill="url(#b6)"/><circle cx="1400" cy="550" r="19.5" fill="url(#h6)"/>
<circle cx="1451.75" cy="196.75" r="20.5" fill="url(#b7)"/><circle cx="1451.75" cy="196.75" r="20.5" fill="url(#h7)"/>
<circle cx="1563" cy="389.5" r="21.5" fill="url(#b8)"/><circle cx="1563" cy="389.5" r="21.5" fill="url(#h8)"/>
<line x1="1121.0" y1="514.6" x2="1140.9" y2="490.5" stroke="#0b112f" stroke-width="13.5" stroke-linecap="round"/>
<line x1="1357.7" y1="424.0" x2="1379.7" y2="424.9" stroke="#0a182a" stroke-width="13.5" stroke-linecap="round"/>
<line x1="1453.3" y1="215.1" x2="1456.0" y2="247.5" stroke="#091b29" stroke-width="13.5" stroke-linecap="round"/>
<line x1="1559.1" y1="378.4" x2="1551.3" y2="356.1" stroke="#081f27" stroke-width="13.5" stroke-linecap="round"/>
<line x1="1367.8" y1="236.0" x2="1374.1" y2="266.6" stroke="#0a182a" stroke-width="13.5" stroke-linecap="round"/>
<line x1="1333.2" y1="278.9" x2="1366.4" y2="276.7" stroke="#0a182b" stroke-width="13.5" stroke-linecap="round"/>
<circle cx="1235.5" cy="457" r="35.3" fill="url(#b9)"/><circle cx="1235.5" cy="457" r="35.3" fill="url(#h9)"/>
<circle cx="1388.25" cy="425.3" r="28.5" fill="url(#b10)"/><circle cx="1388.25" cy="425.3" r="28.5" fill="url(#h10)"/>
<circle cx="1456.75" cy="256.75" r="31" fill="url(#b11)"/><circle cx="1456.75" cy="256.75" r="31" fill="url(#h11)"/>
<circle cx="1590.75" cy="237" r="21.5" fill="url(#b12)"/><circle cx="1590.75" cy="237" r="21.5" fill="url(#h12)"/>
<line x1="1249.3" y1="426.8" x2="1276.9" y2="395.2" stroke="#0a152c" stroke-width="13.5" stroke-linecap="round"/>
<line x1="1263.6" y1="439.4" x2="1291.2" y2="407.8" stroke="#0a152c" stroke-width="13.5" stroke-linecap="round"/>
<line x1="1205.0" y1="465.7" x2="1158.7" y2="479.0" stroke="#0b132d" stroke-width="13.5" stroke-linecap="round"/>
<line x1="1384.4" y1="403.0" x2="1380.3" y2="379.4" stroke="#0a192a" stroke-width="13.5" stroke-linecap="round"/>
<line x1="1392.9" y1="450.5" x2="1402.8" y2="504.2" stroke="#09192a" stroke-width="13.5" stroke-linecap="round"/>
<line x1="1429.6" y1="263.2" x2="1385.3" y2="273.8" stroke="#091a29" stroke-width="13.5" stroke-linecap="round"/>
<line x1="1484.6" y1="256.1" x2="1525.1" y2="255.2" stroke="#091d28" stroke-width="13.5" stroke-linecap="round"/>
<line x1="1572.3" y1="242.9" x2="1544.4" y2="252.0" stroke="#081f27" stroke-width="13.5" stroke-linecap="round"/>
<circle cx="1148" cy="482" r="37" fill="url(#b13)"/><circle cx="1148" cy="482" r="37" fill="url(#h13)"/>
<circle cx="1376" cy="276" r="32" fill="url(#b14)"/><circle cx="1376" cy="276" r="32" fill="url(#h14)"/>
<circle cx="1535" cy="255" r="33" fill="url(#b15)"/><circle cx="1535" cy="255" r="33" fill="url(#h15)"/>
<circle cx="1404.5" cy="513.5" r="31.5" fill="url(#b16)"/><circle cx="1404.5" cy="513.5" r="31.5" fill="url(#h16)"/>
<circle cx="1468" cy="305" r="20.5" fill="url(#b17)"/><circle cx="1468" cy="305" r="20.5" fill="url(#h17)"/>
<line x1="1130" y1="476" x2="1145" y2="461" stroke="#0b112f" stroke-width="13.5" stroke-linecap="round"/>
<line x1="1462.5" y1="287" x2="1464" y2="295" stroke="#091c28" stroke-width="13.5" stroke-linecap="round"/>
<line x1="1376.8" y1="304.8" x2="1378.3" y2="359.5" stroke="#0a192a" stroke-width="13.5" stroke-linecap="round"/>
<line x1="1539.2" y1="284.4" x2="1546.6" y2="336.9" stroke="#081e27" stroke-width="13.5" stroke-linecap="round"/>
<line x1="1529.2" y1="227.9" x2="1525.5" y2="211.0" stroke="#091e27" stroke-width="13.5" stroke-linecap="round"/>
<line x1="1378.8" y1="525.5" x2="1358.9" y2="534.8" stroke="#0a192a" stroke-width="13.5" stroke-linecap="round"/>
<line x1="1432.6" y1="517.0" x2="1462.3" y2="520.7" stroke="#091b29" stroke-width="13.5" stroke-linecap="round"/>
<circle cx="1109.5" cy="440" r="39.7" fill="url(#b18)"/><circle cx="1109.5" cy="440" r="39.7" fill="url(#h18)"/>
<circle cx="1548" cy="346.75" r="33" fill="url(#b19)"/><circle cx="1548" cy="346.75" r="33" fill="url(#h19)"/>
<circle cx="1378.6" cy="369.5" r="33.5" fill="url(#b20)"/><circle cx="1378.6" cy="369.5" r="33.5" fill="url(#h20)"/>
<circle cx="1353" cy="537.5" r="21.7" fill="url(#b21)"/><circle cx="1353" cy="537.5" r="21.7" fill="url(#h21)"/>
<circle cx="1468.75" cy="521.5" r="21.7" fill="url(#b22)"/><circle cx="1468.75" cy="521.5" r="21.7" fill="url(#h22)"/>
<circle cx="1524" cy="204" r="24" fill="url(#b23)"/><circle cx="1524" cy="204" r="24" fill="url(#h23)"/>
<line x1="1074.9" y1="448.8" x2="1038.1" y2="458.1" stroke="#0c0f30" stroke-width="13.5" stroke-linecap="round"/>
<line x1="1131.5" y1="411.8" x2="1158.7" y2="377.0" stroke="#0b112e" stroke-width="13.5" stroke-linecap="round"/>
<line x1="1349.5" y1="377.5" x2="1301.1" y2="390.8" stroke="#0a172b" stroke-width="13.5" stroke-linecap="round"/>
<line x1="1520.0" y1="356.6" x2="1470.9" y2="374.0" stroke="#091d28" stroke-width="13.5" stroke-linecap="round"/>
<line x1="1408.6" y1="372.4" x2="1450.5" y2="376.5" stroke="#091a29" stroke-width="13.5" stroke-linecap="round"/>
<line x1="1577.7" y1="347.4" x2="1599.3" y2="347.9" stroke="#081f26" stroke-width="13.5" stroke-linecap="round"/>
<circle cx="1030.7" cy="460" r="25.6" fill="url(#b24)"/><circle cx="1030.7" cy="460" r="25.6" fill="url(#h24)"/>
<circle cx="1461" cy="377.5" r="35" fill="url(#b25)"/><circle cx="1461" cy="377.5" r="35" fill="url(#h25)"/>
<circle cx="1291" cy="393.6" r="35" fill="url(#b26)"/><circle cx="1291" cy="393.6" r="35" fill="url(#h26)"/>
<circle cx="1606" cy="348" r="22.5" fill="url(#b27)"/><circle cx="1606" cy="348" r="22.5" fill="url(#h27)"/>
<line x1="1282.8" y1="379.0" x2="1269.6" y2="355.3" stroke="#0a152c" stroke-width="13.5" stroke-linecap="round"/>
<line x1="1471.7" y1="384.2" x2="1475.7" y2="408.0" stroke="#091c28" stroke-width="13.5" stroke-linecap="round"/>
<line x1="1453.0" y1="387.3" x2="1457.0" y2="411.1" stroke="#091c28" stroke-width="13.5" stroke-linecap="round"/>
<circle cx="1468" cy="419.5" r="33.7" fill="url(#b28)"/><circle cx="1468" cy="419.5" r="33.7" fill="url(#h28)"/>
<circle cx="1264" cy="345.4" r="38" fill="url(#b29)"/><circle cx="1264" cy="345.4" r="38" fill="url(#h29)"/>
<line x1="1232.7" y1="362.2" x2="1179.7" y2="374.2" stroke="#0b132d" stroke-width="13.5" stroke-linecap="round"/>
<line x1="1228.5" y1="343.7" x2="1175.5" y2="355.7" stroke="#0b132d" stroke-width="13.5" stroke-linecap="round"/>
<line x1="1285.7" y1="318.9" x2="1334.7" y2="259.2" stroke="#0a162b" stroke-width="13.5" stroke-linecap="round"/>
<circle cx="1166" cy="367.6" r="39.7" fill="url(#b30)"/><circle cx="1166" cy="367.6" r="39.7" fill="url(#h30)"/>
<circle cx="1342.6" cy="249.5" r="41.6" fill="url(#b31)"/><circle cx="1342.6" cy="249.5" r="41.6" fill="url(#h31)"/>
<line x1="1150.7" y1="346.1" x2="1139.5" y2="330.3" stroke="#0b112e" stroke-width="13.5" stroke-linecap="round"/>
<circle cx="1134.75" cy="323.75" r="27" fill="url(#b32)"/><circle cx="1134.75" cy="323.75" r="27" fill="url(#h32)"/>
<circle cx="355.5" cy="696.25" r="24.3" fill="url(#b33)"/><circle cx="355.5" cy="696.25" r="24.3" fill="url(#h33)"/>
<circle cx="467.5" cy="791.25" r="21" fill="url(#b34)"/><circle cx="467.5" cy="791.25" r="21" fill="url(#h34)"/>
<circle cx="626" cy="928.5" r="20.7" fill="url(#b35)"/><circle cx="626" cy="928.5" r="20.7" fill="url(#h35)"/>
<circle cx="480" cy="980" r="19.5" fill="url(#b36)"/><circle cx="480" cy="980" r="19.5" fill="url(#h36)"/>
<circle cx="730" cy="880" r="19" fill="url(#b37)"/><circle cx="730" cy="880" r="19" fill="url(#h37)"/>
<circle cx="854.25" cy="957.5" r="21.7" fill="url(#b38)"/><circle cx="854.25" cy="957.5" r="21.7" fill="url(#h38)"/>
<circle cx="722.5" cy="1024.5" r="22" fill="url(#b39)"/><circle cx="722.5" cy="1024.5" r="22" fill="url(#h39)"/>
<circle cx="710" cy="727" r="31" fill="url(#b40)"/>
<line x1="377.3" y1="698.2" x2="415.2" y2="701.5" stroke="#0e0e30" stroke-width="13.5" stroke-linecap="round"/>
<line x1="719.3" y1="755.0" x2="719.1" y2="797.2" stroke="#0e0e30" stroke-width="13.5" stroke-linecap="round"/>
<line x1="700.3" y1="754.8" x2="700.1" y2="797.0" stroke="#0e0e30" stroke-width="13.5" stroke-linecap="round"/>
<line x1="612.4" y1="918.7" x2="595.0" y2="906.0" stroke="#0e0e30" stroke-width="13.5" stroke-linecap="round"/>
<line x1="844.2" y1="946.7" x2="828.2" y2="929.7" stroke="#0e0e30" stroke-width="13.5" stroke-linecap="round"/>
<line x1="736.8" y1="1011.0" x2="755.1" y2="993.7" stroke="#0e0e30" stroke-width="13.5" stroke-linecap="round"/>
<line x1="741.6" y1="871.1" x2="760.2" y2="857.0" stroke="#0e0e30" stroke-width="13.5" stroke-linecap="round"/>
<circle cx="587.75" cy="900.75" r="30" fill="url(#b41)"/><circle cx="587.75" cy="900.75" r="30" fill="url(#h41)"/>
<circle cx="493.75" cy="764" r="35.5" fill="url(#b42)"/><circle cx="493.75" cy="764" r="35.5" fill="url(#h42)"/>
<circle cx="768" cy="851" r="32.7" fill="url(#b43)"/><circle cx="768" cy="851" r="32.7" fill="url(#h43)"/>
<line x1="470.2" y1="742.4" x2="435.3" y2="710.4" stroke="#0e0e30" stroke-width="13.5" stroke-linecap="round"/>
<line x1="527.0" y1="761.0" x2="582.1" y2="772.2" stroke="#0e0e30" stroke-width="13.5" stroke-linecap="round"/>
<line x1="523.2" y1="779.7" x2="578.3" y2="790.8" stroke="#0e0e30" stroke-width="13.5" stroke-linecap="round"/>
<line x1="744.5" y1="833.3" x2="717.4" y2="813.0" stroke="#0e0e30" stroke-width="13.5" stroke-linecap="round"/>
<line x1="789.2" y1="830.6" x2="805.5" y2="814.9" stroke="#0e0e30" stroke-width="13.5" stroke-linecap="round"/>
<line x1="608.7" y1="883.7" x2="638.7" y2="859.1" stroke="#0e0e30" stroke-width="13.5" stroke-linecap="round"/>
<line x1="568.7" y1="919.9" x2="528.2" y2="960.8" stroke="#0e0e30" stroke-width="13.5" stroke-linecap="round"/>
<line x1="785.6" y1="874.6" x2="815.6" y2="914.6" stroke="#0e0e30" stroke-width="13.5" stroke-linecap="round"/>
<circle cx="646.75" cy="852.5" r="34.5" fill="url(#b44)"/><circle cx="646.75" cy="852.5" r="34.5" fill="url(#h44)"/>
<circle cx="521" cy="968" r="34" fill="url(#b45)"/><circle cx="521" cy="968" r="34" fill="url(#h45)"/>
<circle cx="821.5" cy="922.5" r="32.7" fill="url(#b46)"/><circle cx="821.5" cy="922.5" r="32.7" fill="url(#h46)"/>
<circle cx="810" cy="810.5" r="21" fill="url(#b47)"/><circle cx="810" cy="810.5" r="21" fill="url(#h47)"/>
<circle cx="426.75" cy="702.5" r="38.7" fill="url(#b48)"/><circle cx="426.75" cy="702.5" r="38.7" fill="url(#h48)"/>
<line x1="428.8" y1="676.8" x2="441.6" y2="650.8" stroke="#0e0e30" stroke-width="13.5" stroke-linecap="round"/>
<line x1="445.9" y1="685.2" x2="458.6" y2="659.1" stroke="#0e0e30" stroke-width="13.5" stroke-linecap="round"/>
<line x1="627.2" y1="828.3" x2="598.3" y2="792.5" stroke="#0e0e30" stroke-width="13.5" stroke-linecap="round"/>
<line x1="671.9" y1="834.3" x2="701.5" y2="812.8" stroke="#0e0e30" stroke-width="13.5" stroke-linecap="round"/>
<line x1="664.3" y1="878.1" x2="695.7" y2="923.7" stroke="#0e0e30" stroke-width="13.5" stroke-linecap="round"/>
<line x1="494.2" y1="958.9" x2="478.5" y2="953.5" stroke="#0e0e30" stroke-width="13.5" stroke-linecap="round"/>
<line x1="533.1" y1="996.1" x2="546.8" y2="1028.2" stroke="#0e0e30" stroke-width="13.5" stroke-linecap="round"/>
<line x1="801.6" y1="944.2" x2="769.9" y2="978.7" stroke="#0e0e30" stroke-width="13.5" stroke-linecap="round"/>
<line x1="847.1" y1="908.0" x2="868.3" y2="895.9" stroke="#0e0e30" stroke-width="13.5" stroke-linecap="round"/>
<circle cx="472" cy="951.25" r="23" fill="url(#b49)"/><circle cx="472" cy="951.25" r="23" fill="url(#h49)"/>
<circle cx="549.5" cy="1034.5" r="23" fill="url(#b50)"/><circle cx="549.5" cy="1034.5" r="23" fill="url(#h50)"/>
<circle cx="762.75" cy="986.5" r="35.2" fill="url(#b51)"/><circle cx="762.75" cy="986.5" r="35.2" fill="url(#h51)"/>
<circle cx="874.25" cy="892.5" r="23" fill="url(#b52)"/><circle cx="874.25" cy="892.5" r="23" fill="url(#h52)"/>
<circle cx="709.5" cy="807" r="33" fill="url(#b53)"/><circle cx="709.5" cy="807" r="33" fill="url(#h53)"/>
<circle cx="591.25" cy="783.75" r="37.5" fill="url(#b54)"/><circle cx="591.25" cy="783.75" r="37.5" fill="url(#h54)"/>
<circle cx="455.5" cy="644" r="40.7" fill="url(#b55)"/><circle cx="455.5" cy="644" r="40.7" fill="url(#h55)"/>
<line x1="429.2" y1="618.5" x2="407.1" y2="597.1" stroke="#0e0e30" stroke-width="13.5" stroke-linecap="round"/>
<line x1="492.0" y1="647.0" x2="553.7" y2="652.0" stroke="#0e0e30" stroke-width="13.5" stroke-linecap="round"/>
<line x1="608.7" y1="756.7" x2="623.7" y2="733.5" stroke="#0e0e30" stroke-width="13.5" stroke-linecap="round"/>
<line x1="739.0" y1="965.5" x2="709.7" y2="939.6" stroke="#0e0e30" stroke-width="13.5" stroke-linecap="round"/>
<line x1="782.9" y1="1011.0" x2="802.4" y2="1034.7" stroke="#0e0e30" stroke-width="13.5" stroke-linecap="round"/>
<circle cx="701.75" cy="932.5" r="35.5" fill="url(#b56)"/><circle cx="701.75" cy="932.5" r="35.5" fill="url(#h56)"/>
<circle cx="806.75" cy="1040" r="23" fill="url(#b57)"/><circle cx="806.75" cy="1040" r="23" fill="url(#h57)"/>
<circle cx="401.25" cy="591.5" r="27" fill="url(#b58)"/><circle cx="401.25" cy="591.5" r="27" fill="url(#h58)"/>
<circle cx="630" cy="723.75" r="38.7" fill="url(#b59)"/><circle cx="630" cy="723.75" r="38.7" fill="url(#h59)"/>
<line x1="599.6" y1="704.3" x2="567.2" y2="668.5" stroke="#0e0e30" stroke-width="13.5" stroke-linecap="round"/>
<line x1="613.7" y1="691.5" x2="581.3" y2="655.7" stroke="#0e0e30" stroke-width="13.5" stroke-linecap="round"/>
<line x1="664.7" y1="721.1" x2="749.6" y2="714.7" stroke="#0e0e30" stroke-width="13.5" stroke-linecap="round"/>
<line x1="729.9" y1="917.3" x2="746.8" y2="908.2" stroke="#0e0e30" stroke-width="13.5" stroke-linecap="round"/>
<line x1="680.1" y1="956.0" x2="658.8" y2="979.3" stroke="#0e0e30" stroke-width="13.5" stroke-linecap="round"/>
<circle cx="753.25" cy="904.75" r="24.5" fill="url(#b60)"/><circle cx="753.25" cy="904.75" r="24.5" fill="url(#h60)"/>
<circle cx="653.75" cy="984.75" r="24.7" fill="url(#b61)"/><circle cx="653.75" cy="984.75" r="24.7" fill="url(#h61)"/>
<circle cx="566" cy="653" r="41" fill="url(#b62)"/><circle cx="566" cy="653" r="41" fill="url(#h62)"/>
<circle cx="762.5" cy="713.75" r="43" fill="url(#b63)"/><circle cx="762.5" cy="713.75" r="43" fill="url(#h63)"/>
<line x1="582.4" y1="627.4" x2="592.9" y2="611.1" stroke="#0e0e30" stroke-width="13.5" stroke-linecap="round"/>
<circle cx="597.25" cy="604.25" r="27" fill="url(#b64)"/><circle cx="597.25" cy="604.25" r="27" fill="url(#h64)"/>
</svg>
</body></html>
